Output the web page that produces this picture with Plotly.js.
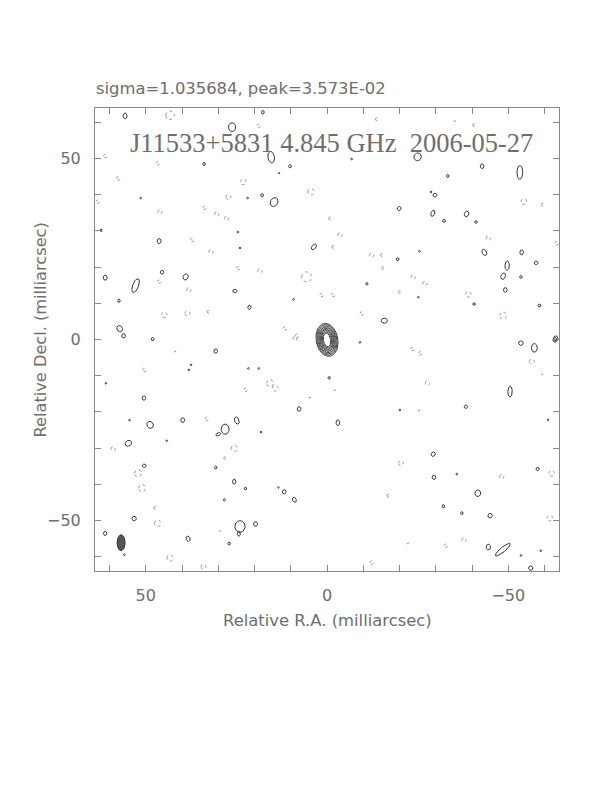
<!DOCTYPE html>
<html><head><meta charset="utf-8">
<script src="https://cdn.plot.ly/plotly-3.0.1.min.js"></script>
<style>body{margin:0;background:#fff}#plot{width:612px;height:792px}</style>
</head><body><div id="plot"></div>
<script>
// ---- Data (milliarcsec) ----
const headerText = "sigma=1.035684, peak=3.573E-02";
const mapTitle = "J11533+5831 4.845 GHz  2006-05-27";
const xTitle = "Relative R.A. (milliarcsec)";
const yTitle = "Relative Decl. (milliarcsec)";
const xTickVals = [-60,-50,-40,-30,-20,-10,0,10,20,30,40,50,60];
const xTickText = ["","\u221250","","","","","0","","","","","50",""];
const yTickVals = [-60,-50,-40,-30,-20,-10,0,10,20,30,40,50,60];
const yTickText = ["","\u221250","","","","","0","","","","","50",""];

// central source contours: semi-axes per level
const srcX = 0.0, srcY = -0.1, srcPA = -10;
const srcMin = [3.0, 2.75, 2.5, 2.25, 2.0, 1.75, 1.5, 1.25, 1.0];
const srcMaj = [4.6, 4.25, 3.9, 3.55, 3.2, 2.9, 2.6, 2.25, 1.9];

// restoring beam
const beamX = 56.8, beamY = -56.2, beamMin = 1.1, beamMaj = 2.2, beamPA = 0;

// positive noise contours: centre x, y, semi-axes a (x), b (y), rotation
const posX = [55.7,26.2,17.7,15.4,33.9,10.2,13.2,17.9,21.9,14.6,51.4,62.3,24.6,46.3,24.0,3.6,61.2,45.5,52.8,39.0,25.4,57.4,21.4,9.2,57.2,56.1,48.1,
 -25.0,-42.8,-53.2,-33.3,-28.7,-29.8,-19.9,-29.2,-32.3,-38.5,-41.1,-6.8,-43.4,-53.7,-25.5,-19.5,-49.7,-57.7,-48.6,-53.5,-49.2,-40.6,-58.6,-11.0,-25.2,-15.8,-63.1,
 30.7,37.5,38.1,21.7,18.8,61.0,50.5,7.7,48.8,39.8,54.5,24.9,28.1,30.0,18.2,54.8,44.2,50.4,30.7,25.6,22.5,11.8,9.0,28.3,53.2,24.0,24.3,19.7,61.2,38.3,27.0,55.9,13.4,
 -53.5,-57.2,-62.9,-0.6,-50.5,-9.1,-38.3,-20.1,-3.0,-61.0,-29.3,-29.5,-58.1,-35.8,-41.6,-32.1,-37.2,-45.0,-44.5,-48.5,-53.5,-59.0,-56.2];
const posY = [61.8,58.7,62.8,50.4,48.5,47.9,46.0,39.9,39.1,38.0,39.1,30.2,29.7,27.2,25.3,25.6,17.1,18.6,14.9,17.3,13.4,10.7,8.9,11.1,3.0,1.0,0.1,
 50.5,47.9,46.2,45.2,40.8,39.9,36.2,34.9,32.8,34.7,32.5,49.9,24.1,24.1,24.4,22.2,20.4,21.2,17.5,17.3,13.7,9.8,9.4,15.4,11.7,5.2,0.3,
 -3.2,-7.0,-8.4,-8.0,-8.0,-12.1,-16.2,-19.2,-23.6,-22.3,-22.3,-22.4,-24.8,-26.2,-25.6,-28.7,-28.0,-34.9,-35.4,-39.3,-41.2,-42.1,-44.3,-44.3,-49.5,-51.7,-53.7,-51.0,-53.6,-55.1,-56.4,-59.5,-40.9,
 -1.0,-2.3,-0.1,-10.6,-14.4,-0.8,-18.6,-19.5,-23.0,-22.2,-31.7,-38.1,-35.8,-37.2,-42.5,-46.1,-48.0,-48.7,-57.4,-58.1,-59.7,-58.4,-63.2];
const posA = [0.55,1.0,0.4,0.9,0.35,0.4,0.2,0.4,0.25,1.0,0.25,0.3,0.25,0.55,0.25,0.55,0.55,0.45,0.8,0.7,0.6,0.35,0.45,0.25,0.75,0.5,0.4,
 1.0,0.5,0.8,0.35,0.25,0.55,0.5,0.5,0.4,0.6,0.35,0.25,0.6,0.5,0.25,0.4,0.6,0.55,0.6,0.35,0.5,0.4,0.4,0.3,0.25,0.85,0.6,
 0.5,0.25,0.25,0.25,0.25,0.25,0.5,0.5,0.85,0.55,0.25,0.6,1.1,0.7,0.25,0.95,0.25,0.55,0.35,0.45,0.35,0.5,0.5,0.3,0.6,1.4,0.4,0.55,0.45,0.55,0.35,0.25,0.25,
 0.65,0.8,0.6,0.35,0.6,0.25,0.45,0.25,0.5,0.25,0.55,0.5,0.45,0.25,0.8,0.35,0.35,0.6,0.6,2.6,0.25,0.25,0.6];
const posB = [0.8,1.2,0.5,1.6,0.45,0.45,0.2,0.45,0.25,1.3,0.25,0.35,0.25,0.7,0.25,0.9,0.7,0.55,2.0,0.85,0.45,0.45,0.55,0.25,0.9,0.6,0.45,
 1.1,0.65,1.9,0.45,0.25,0.5,0.6,0.9,0.45,0.8,0.4,0.25,0.9,0.7,0.25,0.4,1.3,0.5,0.9,0.4,0.65,0.35,0.4,0.35,0.25,0.7,0.7,
 0.6,0.25,0.25,0.25,0.25,0.25,0.6,0.65,1.0,0.65,0.25,1.0,1.4,0.4,0.25,0.75,0.25,0.45,0.4,0.7,0.35,0.6,0.75,0.35,0.65,1.6,0.7,0.65,0.6,0.75,0.4,0.25,0.25,
 0.6,1.2,0.6,0.35,1.5,0.25,0.45,0.25,0.8,0.25,0.65,0.6,0.45,0.25,0.9,0.45,0.4,0.65,0.8,0.65,0.25,0.25,0.6];
const posT = [0,0,0,-10,0,0,0,0,0,30,0,0,0,0,0,40,0,0,20,20,0,0,0,0,-30,0,0,
 30,0,0,0,0,0,30,20,0,20,0,0,-30,0,0,0,0,0,20,0,0,0,0,0,0,0,0,
 0,0,0,0,0,0,0,0,-30,0,0,-20,0,-30,0,-30,0,0,0,0,0,0,-20,0,0,0,0,0,0,-20,0,0,0,
 30,0,0,0,0,0,0,0,0,0,30,0,0,0,0,0,0,0,0,140,0,0,30];

// negative noise contours: centre x, y, radius
const negX = [43.3,18.8,61.2,46.7,57.6,23.1,4.4,27.2,63.2,46.1,33.8,30.4,27.7,37.2,32.0,24.5,18.5,5.6,46.3,38.1,1.5,44.9,38.5,32.7,11.6,8.3,
 -13.7,-35.3,-40.6,-54.3,-59.5,-0.8,-3.6,-1.7,-44.5,-63.4,-12.3,-15.1,-15.5,-23.8,-27.0,-1.7,-20.1,-39.0,-48.6,-9.6,
 8.8,41.9,50.4,15.7,14.3,22.4,4.7,33.2,59.0,25.6,28.1,52.1,51.0,46.7,43.3,34.1,29.5,47.4,
 -23.6,-25.7,-56.5,-27.7,-2.2,-25.4,-59.4,-20.4,-48.2,-62.0,-16.9,-61.5,-37.8,-32.8,-22.4,-12.3];
const negY = [62.0,59.1,50.7,48.7,44.5,43.6,40.8,39.4,38.1,35.3,36.4,34.7,33.5,27.5,24.3,19.7,19.0,17.3,16.0,13.7,12.3,6.8,7.2,7.7,3.1,1.0,
 60.9,60.2,59.3,38.1,37.3,33.5,28.9,25.6,28.0,26.6,23.3,23.3,19.7,17.3,15.5,12.3,13.2,12.5,6.6,7.2,
 0.3,-3.5,-8.4,-12.1,-13.5,-13.9,-16.2,-22.0,-30.2,-30.1,-32.8,-37.0,-41.1,-50.8,-60.4,-62.8,-53.1,-46.5,
 -2.6,-3.8,-6.1,-12.1,-14.2,-19.8,-9.8,-34.2,-37.9,-37.0,-43.2,-49.4,-55.4,-57.0,-56.5,-61.7];
const negR = [1.2,0.5,0.5,0.5,0.5,0.8,0.9,0.7,0.5,0.6,0.5,0.6,0.6,0.5,0.6,0.5,0.6,1.4,0.5,0.6,0.5,0.8,0.7,0.4,0.5,0.5,
 0.4,0.3,0.4,0.8,0.4,0.4,0.6,0.4,0.6,0.5,0.6,0.4,0.4,0.6,0.6,0.5,0.4,0.8,1.0,0.5,
 0.6,0.3,0.5,1.0,0.8,0.5,0.3,0.5,0.6,0.9,0.4,1.0,1.0,0.9,0.9,0.7,0.3,0.4,
 0.5,0.5,0.7,0.6,0.3,0.3,0.3,0.7,0.6,0.8,0.4,0.8,0.6,0.5,0.3,0.5];

// ---- drawing helpers ----
function ellipse(cx, cy, a, b, tDeg, n, xs, ys) {
  const th = tDeg * Math.PI / 180, c = Math.cos(th), s = Math.sin(th);
  for (let i = 0; i <= n; i++) {
    const t = 2 * Math.PI * i / n;
    const u = a * Math.cos(t), v = b * Math.sin(t);
    xs.push(cx + u * c - v * s);
    ys.push(cy + u * s + v * c);
  }
  xs.push(null); ys.push(null);
}

const px = [], py = [];
for (let i = 0; i < posX.length; i++) ellipse(posX[i], posY[i], posA[i], posB[i], posT[i], 28, px, py);
const nx = [], ny = [];
for (let i = 0; i < negX.length; i++) ellipse(negX[i], negY[i], negR[i], negR[i], 0, 24, nx, ny);
const sx = [], sy = [];
for (let i = 0; i < srcMaj.length; i++) ellipse(srcX, srcY, srcMin[i], srcMaj[i], srcPA, 80, sx, sy);
const bx = [], by = [];
ellipse(beamX, beamY, beamMin, beamMaj, beamPA, 60, bx, by);

const lineCol = '#888888', textCol = '#6e6e6e';
const traces = [
  {x: nx, y: ny, type: 'scatter', mode: 'lines', line: {color: '#9a9a9a', width: 1, dash: 'dot'}, hoverinfo: 'skip'},
  {x: px, y: py, type: 'scatter', mode: 'lines', line: {color: '#333333', width: 1}, hoverinfo: 'skip'},
  {x: sx, y: sy, type: 'scatter', mode: 'lines', line: {color: '#444444', width: 1}, hoverinfo: 'skip'},
  {x: bx, y: by, type: 'scatter', mode: 'lines', fill: 'toself', fillcolor: '#555555', line: {color: '#333333', width: 1}, hoverinfo: 'skip'}
];

const axisCommon = {
  showgrid: false, zeroline: false, showline: true, mirror: 'ticks',
  linecolor: lineCol, linewidth: 1, ticks: 'inside', ticklen: 6, tickwidth: 1, tickcolor: lineCol,
  tickmode: 'array', ticklabelstandoff: 10, tickfont: {family: 'DejaVu Sans', size: 16, color: textCol}
};
const layout = {
  width: 612, height: 792, paper_bgcolor: '#fff', plot_bgcolor: '#fff', showlegend: false,
  margin: {l: 95, r: 53, t: 108, b: 221},
  xaxis: Object.assign({}, axisCommon, {range: [64, -64], tickvals: xTickVals, ticktext: xTickText}),
  yaxis: Object.assign({}, axisCommon, {range: [-64, 64], tickvals: yTickVals, ticktext: yTickText}),
  annotations: [
    {text: headerText, xref: 'paper', yref: 'paper', x: 0.0, y: 1.0, xanchor: 'left', yanchor: 'bottom', yshift: 8, xshift: -1,
     showarrow: false, font: {family: 'DejaVu Sans', size: 16.4, color: textCol}},
    {text: mapTitle, xref: 'paper', yref: 'paper', x: 0.5, y: 1.0, xanchor: 'center', yanchor: 'middle', yshift: -35, xshift: 4,
     showarrow: false, font: {family: 'Liberation Serif', size: 26.5, color: textCol}},
    {text: xTitle, xref: 'paper', yref: 'paper', x: 0.5, y: 0, xanchor: 'center', yanchor: 'middle', yshift: -49,
     showarrow: false, font: {family: 'DejaVu Sans', size: 16.4, color: textCol}},
    {text: yTitle, xref: 'paper', yref: 'paper', x: 0, y: 0.5, xanchor: 'center', yanchor: 'middle', xshift: -55, yshift: 9,
     textangle: -90, showarrow: false, font: {family: 'DejaVu Sans', size: 16.2, color: textCol}}
  ]
};
Plotly.newPlot('plot', traces, layout, {staticPlot: true, displayModeBar: false});
</script></body></html>
